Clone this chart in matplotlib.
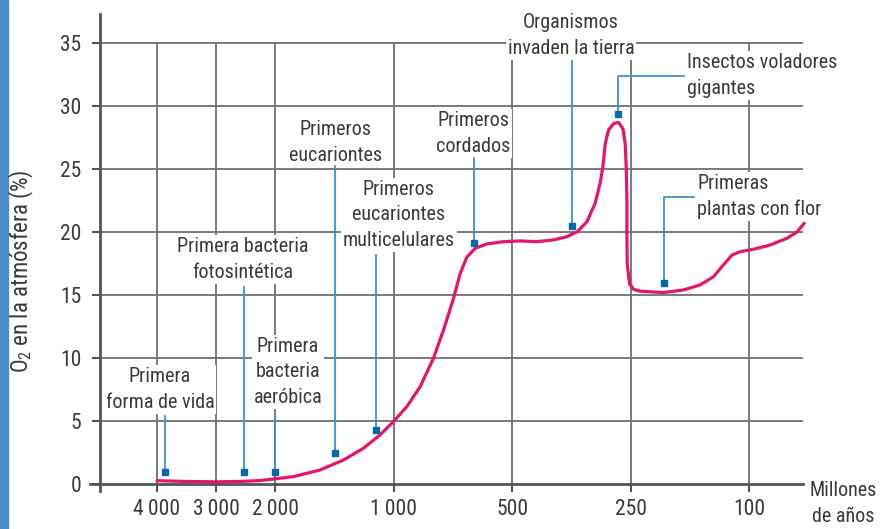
import numpy as np
import matplotlib.pyplot as plt
from matplotlib.patches import Rectangle

plt.rcParams['font.family'] = ['Roboto Condensed', 'Roboto', 'DejaVu Sans']
plt.rcParams['mathtext.default'] = 'regular'

# eje x no lineal: posiciones de las marcas (millones de años)
tick_pos = [1, 2, 3, 5, 7, 9, 11]
tick_labels = ['4\u2009000', '3\u2009000', '2\u2009000', '1\u2009000', '500', '250', '100']
y_ticks = [0, 5, 10, 15, 20, 25, 30, 35]

# curva de O2 (posición en el eje x, % de O2)
curve_x = [1.000, 1.473, 1.980, 2.402, 2.740, 3.302, 3.753, 4.147, 4.485, 4.767,
           4.992, 5.218, 5.443, 5.667, 5.836, 6.005, 6.118, 6.231, 6.372, 6.569,
           6.850, 7.132, 7.414, 7.694, 7.921, 8.090, 8.258, 8.399, 8.483, 8.529,
           8.568, 8.624, 8.708, 8.792, 8.867, 8.905, 8.922, 8.934, 8.934, 8.939,
           8.978, 9.046, 9.159, 9.552, 9.890, 10.172, 10.397, 10.566, 10.708,
           10.848, 11.073, 11.355, 11.637, 11.806, 11.929]
curve_o2 = [0.26, 0.2, 0.17, 0.2, 0.27, 0.58, 1.11, 1.9, 2.83, 3.9,
            4.95, 6.14, 7.72, 9.97, 12.2, 14.7, 16.7, 18.0, 18.7, 19.05,
            19.23, 19.29, 19.23, 19.37, 19.63, 20.0, 20.8, 22.3, 23.9, 25.2,
            27.0, 28.1, 28.6, 28.7, 28.2, 27.0, 25.2, 22.5, 19.9, 17.5,
            15.9, 15.45, 15.3, 15.19, 15.4, 15.8, 16.45, 17.4, 18.17,
            18.44, 18.63, 18.97, 19.5, 20.0, 20.7]

# acontecimientos: texto, posición del punto, valor
ev_text = ['Primera\nforma de vida', 'Primera bacteria\nfotosintética',
           'Primera\nbacteria\naeróbica', 'Primeros\neucariontes',
           'Primeros\neucariontes\nmulticelulares', 'Primeros\ncordados',
           'Organismos\ninvaden la tierra', 'Insectos voladores\ngigantes',
           'Primeras\nplantas con flor']
ev_x = [1.14, 2.47, 2.99, 4.01, 4.70, 6.35, 8.01, 8.79, 9.56]
ev_y = [0.98, 0.98, 0.98, 2.48, 4.3, 19.15, 20.5, 29.4, 15.95]

# colocación de los textos y de las líneas guía
txt_xy = [(1.05, 7.5), (2.45, 17.8), (3.21, 8.9), (4.01, 27.1), (5.08, 21.35),
          (6.34, 27.8), (7.99, 35.6), (9.95, 32.4), (10.12, 22.8)]
txt_ha = ['center'] * 7 + ['left', 'left']
lead_top = [5.4, 15.6, 5.5, 25.2, 18.2, 25.9, 33.6, 32.4, 22.8]
lead_end = [None] * 7 + [9.90, 10.07]

text_c = '#3a3a3a'
grid_c = '#707070'
axis_c = '#555555'
pink = '#e5156b'
blue_line = '#3d94c8'
blue_dot = '#0867a8'
fs = 14.5

fig = plt.figure(figsize=(8.83, 5.29), dpi=100)
fig.patches.append(Rectangle((0, 0), 8 / 883, 1, transform=fig.transFigure,
                             color='#4a8fca', zorder=0))
ax = fig.add_axes([0.1019, 0.0718, 0.8070, 0.9017])
ax.set_xlim(-0.132, 11.9)
ax.set_ylim(-0.56, 37.3)

# rejilla
ax.hlines(y_ticks[1:], 0.037, 11.9, color=grid_c, lw=1.3, zorder=1)
ax.vlines(tick_pos, 0, 35, color=grid_c, lw=1.3, zorder=1)

for s in ['top', 'right']:
    ax.spines[s].set_visible(False)
ax.spines['left'].set_position(('data', 0.037))
ax.spines['bottom'].set_position(('data', 0))
for s in ['left', 'bottom']:
    ax.spines[s].set_color(axis_c)
    ax.spines[s].set_linewidth(2)
    ax.spines[s].set_zorder(2)

ax.set_xticks(tick_pos)
ax.set_xticklabels(tick_labels)
ax.set_yticks(y_ticks)
ax.tick_params(axis='both', colors=axis_c, labelcolor=text_c, labelsize=15.5,
               width=1.5, length=5.5, direction='out')
ax.tick_params(axis='y', pad=8)
ax.tick_params(axis='x', pad=5)

fig.text(0.024, 0.487, 'O$_2$ en la atmósfera (%)', rotation=90, fontsize=16.5,
         color=text_c, ha='center', va='center')
ax.text(12.59, -1.55, 'Millones\nde años', fontsize=fs, color=text_c,
        ha='center', va='center', linespacing=1.45, clip_on=False)

# curva
ax.plot(curve_x, curve_o2, color=pink, lw=2.3, solid_capstyle='round',
        solid_joinstyle='round', zorder=4, clip_on=False)

# acontecimientos
for i, t in enumerate(ev_text):
    ax.text(txt_xy[i][0], txt_xy[i][1], t, fontsize=fs, color=text_c,
            ha=txt_ha[i], va='center', linespacing=1.45, zorder=3,
            bbox=dict(facecolor='white', edgecolor='none', pad=1.5))
    if lead_end[i] is None:
        ax.plot([ev_x[i], ev_x[i]], [lead_top[i], ev_y[i]], color=blue_line,
                lw=1.3, zorder=5)
    else:
        ax.plot([ev_x[i], ev_x[i], lead_end[i]], [ev_y[i], lead_top[i], lead_top[i]],
                color=blue_line, lw=1.3, zorder=5)
ax.plot(ev_x, ev_y, 's', color=blue_dot, ms=4.5, zorder=6)

fig.savefig('out.png', dpi=100)
